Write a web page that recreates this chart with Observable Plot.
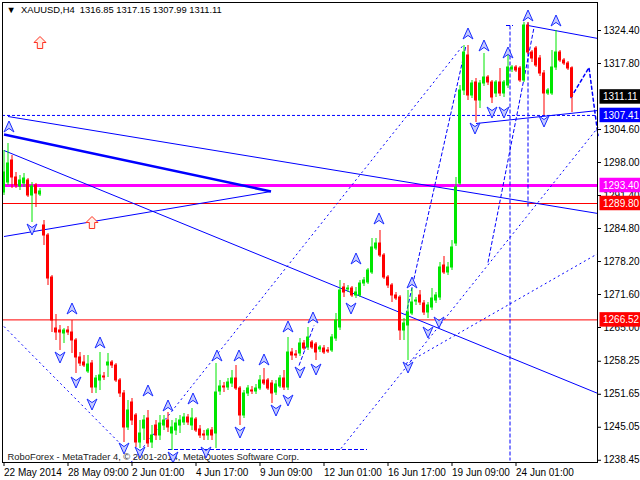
<!DOCTYPE html>
<html><head><meta charset="utf-8">
<script src="https://cdn.jsdelivr.net/npm/d3@7"></script>
<script src="https://cdn.jsdelivr.net/npm/@observablehq/plot@0.6"></script>
<style>body{margin:0;background:#fff;overflow:hidden}</style>
</head><body><div id="chart"></div>
<script>
// ---- data (bar index = H4 bar number) ----
const open  = [1292.0,1294.0,1298.4,1295.0,1293.2,1293.8,1294.4,1291.4,1293.4,1291.6,1285.4,1283.4,1275.0,1264.8,1264.4,1263.8,1264.4,1264.0,1262.4,1259.0,1258.0,1256.2,1257.8,1253.0,1254.4,1255.2,1257.4,1258.0,1257.4,1254.4,1251.8,1245.0,1250.0,1247.4,1242.0,1244.8,1246.8,1242.0,1245.4,1243.4,1245.4,1246.4,1243.8,1244.4,1245.4,1246.0,1247.0,1245.4,1246.6,1244.6,1243.6,1243.4,1244.4,1243.8,1252.2,1253.2,1253.0,1253.8,1254.8,1252.8,1247.4,1251.8,1252.4,1252.2,1252.8,1254.4,1254.4,1253.8,1252.0,1253.2,1254.8,1253.0,1260.0,1259.6,1259.8,1261.8,1261.0,1262.0,1261.6,1260.6,1260.8,1260.4,1260.4,1262.8,1265.0,1273.0,1272.6,1272.8,1271.4,1271.4,1273.8,1274.0,1276.0,1280.8,1281.8,1279.4,1275.0,1273.4,1271.4,1271.0,1264.4,1265.4,1267.8,1270.2,1271.4,1269.8,1268.0,1269.0,1270.4,1271.0,1277.4,1276.0,1277.0,1281.8,1293.8,1312.4,1319.4,1311.4,1314.0,1310.4,1313.8,1315.0,1314.0,1311.8,1314.0,1311.8,1313.4,1316.6,1317.0,1316.8,1314.4,1325.4,1320.0,1320.8,1318.8,1315.8,1311.8,1311.8,1317.0,1320.0,1318.4,1317.8,1316.85];
const high  = [1300.4,1301.8,1299.4,1296.0,1295.4,1295.8,1294.8,1294.0,1293.8,1292.8,1286.4,1283.8,1275.4,1267.6,1265.4,1264.8,1265.2,1266.4,1262.8,1260.0,1259.4,1259.4,1258.4,1255.4,1260.0,1256.0,1259.8,1258.4,1257.8,1254.8,1252.4,1250.4,1250.8,1247.8,1246.4,1247.4,1248.4,1245.4,1246.4,1247.4,1247.4,1248.0,1246.4,1246.8,1247.4,1247.8,1247.6,1248.8,1247.0,1245.4,1244.4,1244.8,1245.0,1257.8,1254.4,1254.0,1254.8,1256.4,1257.4,1253.2,1252.4,1253.4,1253.2,1253.6,1255.4,1256.8,1254.8,1254.4,1254.4,1255.4,1256.4,1263.0,1260.8,1260.4,1262.8,1262.4,1265.0,1262.4,1262.0,1261.4,1261.4,1261.0,1263.6,1267.8,1274.4,1273.8,1273.4,1273.2,1273.0,1274.4,1275.0,1276.8,1282.8,1282.8,1284.4,1279.8,1275.4,1273.8,1272.0,1271.4,1266.8,1272.4,1272.8,1271.0,1272.4,1270.4,1270.0,1272.8,1272.0,1278.0,1279.2,1278.0,1282.4,1295.0,1313.4,1321.4,1321.4,1314.4,1314.8,1314.4,1319.8,1315.4,1314.4,1314.4,1316.8,1314.4,1319.8,1317.4,1317.4,1317.2,1326.0,1326.0,1320.4,1321.2,1319.4,1316.4,1312.8,1320.4,1324.4,1320.4,1318.8,1318.2,1317.15];
const low   = [1291.4,1293.4,1292.8,1292.8,1292.4,1293.0,1291.0,1286.0,1289.0,1291.2,1281.4,1273.4,1264.0,1262.4,1260.4,1261.8,1263.4,1259.8,1255.8,1257.2,1257.0,1255.8,1251.8,1251.8,1252.4,1254.4,1255.0,1256.8,1254.0,1251.0,1242.0,1244.4,1245.4,1241.0,1240.8,1242.4,1241.0,1240.8,1242.4,1242.4,1244.4,1244.0,1240.4,1243.4,1243.8,1245.4,1245.4,1244.4,1244.0,1242.8,1242.4,1242.4,1242.4,1240.8,1251.4,1252.0,1252.4,1253.0,1252.4,1245.4,1246.8,1251.2,1251.6,1251.6,1252.4,1253.4,1252.4,1249.8,1251.4,1252.8,1252.4,1252.4,1258.4,1258.8,1259.2,1260.4,1260.4,1260.6,1258.4,1260.0,1259.6,1259.8,1260.0,1262.2,1264.4,1271.0,1272.0,1271.0,1270.8,1271.0,1273.2,1273.6,1275.6,1280.4,1279.0,1274.6,1272.8,1270.0,1270.4,1262.4,1262.4,1258.4,1267.4,1269.4,1269.4,1267.4,1266.8,1268.4,1269.8,1270.4,1275.6,1275.4,1276.4,1281.2,1293.4,1311.4,1310.4,1310.8,1306.0,1308.8,1313.2,1313.4,1309.8,1311.0,1311.2,1311.0,1312.8,1316.0,1316.0,1314.0,1314.0,1319.6,1318.0,1317.0,1315.2,1307.4,1311.4,1311.4,1316.4,1318.0,1317.4,1316.4,1307.99];
const close = [1296.0,1297.8,1295.0,1293.4,1294.4,1294.8,1291.4,1293.2,1291.8,1292.2,1283.4,1274.8,1266.4,1264.0,1264.0,1264.4,1264.0,1262.4,1259.0,1257.8,1257.4,1257.6,1253.0,1254.8,1255.4,1255.0,1258.0,1257.4,1254.4,1251.8,1245.0,1248.4,1246.4,1242.0,1243.8,1246.4,1241.8,1243.4,1243.4,1245.8,1246.4,1245.0,1245.0,1245.8,1246.4,1247.0,1246.0,1246.8,1244.4,1243.4,1243.4,1244.4,1243.4,1252.0,1253.2,1253.0,1254.0,1254.8,1252.8,1247.4,1251.8,1252.8,1252.2,1252.8,1254.4,1253.8,1252.8,1251.8,1253.6,1254.8,1253.0,1260.0,1259.4,1259.4,1261.8,1260.8,1263.0,1261.0,1260.0,1261.0,1260.0,1260.2,1263.0,1266.4,1272.4,1272.0,1272.8,1271.4,1272.0,1273.8,1274.4,1276.4,1281.0,1281.8,1279.4,1275.0,1273.4,1271.4,1270.8,1264.4,1265.8,1268.0,1270.0,1270.4,1270.0,1268.0,1269.4,1270.8,1271.4,1277.0,1276.0,1277.0,1281.0,1293.0,1312.4,1320.0,1311.4,1313.8,1310.4,1313.8,1315.0,1314.0,1311.0,1314.0,1311.8,1314.0,1317.0,1317.0,1316.4,1314.4,1325.4,1320.0,1318.8,1317.4,1315.8,1311.8,1312.4,1317.0,1320.0,1318.4,1317.8,1316.8,1311.11];

const xTickIndex  = [0,16,32,48,64,80,96,112,128];
const xTickLabels = ["22 May 2014","28 May 09:00","2 Jun 01:00","4 Jun 17:00","9 Jun 09:00","12 Jun 01:00","16 Jun 17:00","19 Jun 09:00","24 Jun 01:00"];
const yTicks = [1324.40,1317.80,1304.60,1298.00,1291.40,1284.80,1278.20,1271.60,1265.00,1258.25,1251.65,1245.05,1238.45];

const symbolName = "XAUUSD,H4";
const lastOHLC = [1316.85,1317.15,1307.99,1311.11];
const copyright = "RoboForex - MetaTrader 4, © 2001-2014, MetaQuotes Software Corp.";

// horizontal levels
const magentaLevel = 1293.40;
const redLevels = [1289.80, 1266.52];
const blueDashedLevel = 1307.41;
const bidPrice = 1311.11;

// trend lines [i1, p1, i2, p2]
const thickLines  = [[0,1303.6,66.75,1292.2]];
const solidLines  = [[1,1307.2,148.5,1287.8],[0,1283.2,66.75,1292.2],[0,1300.4,148.5,1251.8],[131,1325.4,148.5,1322.8],[118,1305.8,148.5,1308.4]];
const dottedLines = [[0,1265.2,30,1241.0],[31.75,1238.0,114.75,1321.4],[84.25,1240.8,148.5,1305.0],[100.5,1257.8,148.5,1279.8]];
const dashedLines = [[41,1240.6,90.75,1240.6],[100.5,1267.6,115.5,1321.4],[126.5,1325.4,126.5,1238.4],[125.5,1325.4,127.25,1325.4],[131,1326.0,131,1289.0],[121,1278.0,132.5,1325.0],[73.75,1257.4,77.5,1265.4]];
const forecastIdx   = [141.75,146.25,148.5];
const forecastPrice = [1311.0,1317.0,1303.4];

// fractal-like arrows
const upArrowIdx    = [1.25,17,24,36,41,47.25,53.25,58.75,65,71,77.25,88,93.75,102,116,120,126,131,138];
const upArrowPrice  = [1305.2,1268.8,1262.0,1252.4,1249.4,1250.8,1259.4,1259.4,1258.6,1265.2,1267.0,1278.8,1286.8,1274.0,1323.8,1321.4,1320.0,1327.4,1326.4];
const downArrowIdx   = [7,14,18,22,30,34,42.25,50.5,59,68,71,74,78,86.75,101,106,108.75,117.75,122,125,135];
const downArrowPrice = [1284.6,1259.0,1254.0,1249.6,1240.8,1240.0,1239.0,1240.0,1244.0,1248.4,1250.4,1256.0,1256.6,1268.8,1257.0,1264.0,1266.0,1304.8,1308.0,1308.0,1306.2];
const hollowArrowIdx   = [9,22];
const hollowArrowPrice = [1322.0,1286.0];

// ---- build ----
const bars = open.map((o,i)=>({i, o, h: high[i], l: low[i], c: close[i]}));
const GREEN="#00e600", RED="#ff0000", BLUE="#0000ff", MAGENTA="#ff00ff";
const col = d => d.c >= d.o ? GREEN : RED;
const seg = a => a.map(([i1,p1,i2,p2])=>({i1,p1,i2,p2}));
const pts = (xs,ys) => xs.map((x,k)=>({i:x,p:ys[k]}));

const upArrow = {draw(ctx,size){const r=Math.sqrt(size/Math.PI);ctx.moveTo(0,-r);ctx.lineTo(r*0.9,r);ctx.lineTo(0,r*0.35);ctx.lineTo(-r*0.9,r);ctx.closePath();}};
const downArrow = {draw(ctx,size){const r=Math.sqrt(size/Math.PI);ctx.moveTo(0,r);ctx.lineTo(r*0.9,-r);ctx.lineTo(0,-r*0.35);ctx.lineTo(-r*0.9,-r);ctx.closePath();}};
const blockArrow = {draw(ctx,size){const r=Math.sqrt(size/Math.PI);ctx.moveTo(0,-r);ctx.lineTo(r,0);ctx.lineTo(r*0.45,0);ctx.lineTo(r*0.45,r);ctx.lineTo(-r*0.45,r);ctx.lineTo(-r*0.45,0);ctx.lineTo(-r,0);ctx.closePath();}};

const tags = [
  {p: bidPrice, fill: "#000000"},
  {p: blueDashedLevel, fill: BLUE},
  {p: magentaLevel, fill: MAGENTA},
  {p: redLevels[0], fill: RED},
  {p: redLevels[1], fill: RED}
];

const linkOpts = (stroke, w, dash) => ({x1:"i1",y1:"p1",x2:"i2",y2:"p2",stroke, strokeWidth:w, strokeDasharray:dash});

const chart = Plot.plot({
  width: 640, height: 480,
  marginLeft: 2, marginRight: 43, marginTop: 2, marginBottom: 18,
  x: {domain: [-0.375, 148.375], axis: null},
  y: {domain: [1238, 1330], axis: null},
  color: {type: "identity"},
  style: {fontFamily: "'Liberation Sans', Arial, sans-serif", fontSize: "10px", background: "white", color: "black", overflow: "visible"},
  marks: [
    Plot.ruleY([blueDashedLevel], {stroke: BLUE, strokeDasharray: "3,2"}),
    Plot.ruleY(redLevels, {stroke: RED}),
    Plot.ruleY([magentaLevel], {stroke: MAGENTA, strokeWidth: 3}),
    Plot.link(seg(thickLines), linkOpts(BLUE, 2.5)),
    Plot.link(seg(solidLines), linkOpts(BLUE, 1)),
    Plot.link(seg(dottedLines), linkOpts(BLUE, 1, "2,3")),
    Plot.link(seg(dashedLines), linkOpts(BLUE, 1, "4,2")),
    Plot.line(pts(forecastIdx, forecastPrice), {x:"i", y:"p", stroke: BLUE, strokeDasharray: "3,3"}),
    Plot.text([copyright], {frameAnchor: "bottom-left", dx: 5, dy: -3, textAnchor: "start", lineAnchor: "bottom", fill: "#222", fontSize: 9.4}),
    Plot.ruleX(bars, {x: "i", y1: "l", y2: "h", stroke: col}),
    Plot.rect(bars, {x1: d=>d.i-0.375, x2: d=>d.i+0.375, y1: "o", y2: "c", fill: col, insetTop: -0.5, insetBottom: -0.5}),
    Plot.dot(pts(upArrowIdx, upArrowPrice), {x:"i", y:"p", r: 5.5, symbol: upArrow, fill: "#c4caff", stroke: "#1a2cff", strokeWidth: 1}),
    Plot.dot(pts(downArrowIdx, downArrowPrice), {x:"i", y:"p", r: 5.5, symbol: downArrow, fill: "#c4caff", stroke: "#1a2cff", strokeWidth: 1}),
    Plot.dot(pts(hollowArrowIdx, hollowArrowPrice), {x:"i", y:"p", r: 6, symbol: blockArrow, fill: "#fff0e8", stroke: "#ff3020", strokeWidth: 1}),
    Plot.text([`▼  ${symbolName}  ${lastOHLC.map(v=>v.toFixed(2)).join(" ")}`], {frameAnchor: "top-left", dx: 4, dy: 4, textAnchor: "start", lineAnchor: "top", fill: "#000", fontSize: 9.4}),
    Plot.frame({stroke: "black"}),
    Plot.axisY({anchor: "right", ticks: yTicks, tickFormat: d => d.toFixed(2), tickSize: 3, tickPadding: 3, label: null, fill: "black"}),
    Plot.axisX({ticks: xTickIndex, tickFormat: d => xTickLabels[xTickIndex.indexOf(d)], tickSize: 4, tickPadding: 2, textAnchor: "start", label: null, fill: "black"}),
    Plot.rect(tags, {x1: () => 149.0, x2: () => 160.5, y1: d => d.p - 1.45, y2: d => d.p + 1.45, fill: "fill"}),
    Plot.text(tags, {x: () => 149.75, y: "p", text: d => d.p.toFixed(2), fill: "white", textAnchor: "start"})
  ]
});
document.getElementById("chart").appendChild(chart);
</script>
</body></html>
